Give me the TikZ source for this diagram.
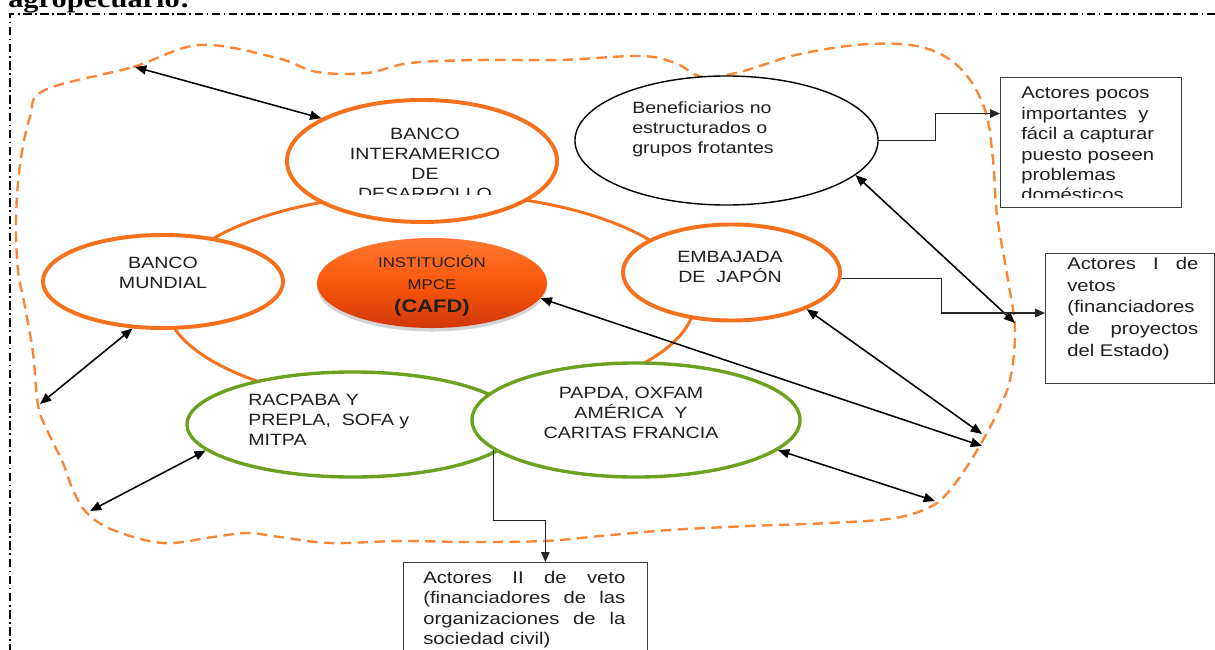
\documentclass[tikz,border=0pt]{standalone}
\usepackage{fontspec}
\setmainfont{Liberation Sans}[FakeStretch=1.2]
\newfontfamily\titlefont{Liberation Serif}[FakeStretch=1.2]
\usetikzlibrary{shapes.geometric, arrows.meta, shadows}
\definecolor{actororange}{RGB}{247,112,28}
\definecolor{arenaorange}{RGB}{250,135,55}
\definecolor{civilgreen}{RGB}{108,160,30}
\definecolor{cafdtop}{RGB}{255,120,50}
\definecolor{cafdmid}{RGB}{250,88,10}
\definecolor{cafdbot}{RGB}{208,55,10}
\definecolor{noteline}{RGB}{60,60,60}
\newcommand{\ellfont}{\fontsize{11.6}{14.2}\selectfont}
\newcommand{\notefont}{\fontsize{12}{14.5}\selectfont\hyphenpenalty=10000\tolerance=10000}
\newcommand{\vetofont}{\fontsize{12}{15.4}\selectfont\hyphenpenalty=10000\tolerance=10000}

\begin{document}
\begin{tikzpicture}[
    x=0.025cm, y=-0.025cm,
    actor/.style={draw=actororange, ellipse, fill=white, line width=2.8pt, inner sep=0pt},
    civil/.style={actor, draw=civilgreen, line width=2.4pt},
    cafd/.style={ellipse, inner sep=0pt, top color=cafdtop, bottom color=cafdbot, middle color=cafdmid,
                 drop shadow={shadow xshift=0pt, shadow yshift=-2.5pt, opacity=0.35}},
    elltext/.style={inner sep=0pt, align=center, font=\ellfont, text=black!88},
    notebox/.style={draw=noteline, rectangle, fill=white, line width=0.9pt, anchor=north west, inner sep=0pt},
    notetext/.style={inner sep=0pt, anchor=north west, font=\notefont, text=black!88},
    link/.style={<->, >={Triangle[length=8pt,width=6.5pt]}, line width=1.1pt},
    feed/.style={->, >={Triangle[length=7pt,width=6pt]}, line width=0.8pt, draw=black!85},
    pageframe/.style={line width=0.8pt, dash pattern=on 6pt off 2.5pt on 1.2pt off 2.5pt},
    arena/.style={draw=arenaorange, line width=1.7pt, dash pattern=on 7.5pt off 4.5pt}
]
    \useasboundingbox (0,0) rectangle (1215,650);
    % title and frame
    \node[anchor=base west, inner sep=0pt, font=\titlefont\bfseries\fontsize{18}{20}\selectfont] (title) at (8,8) {agropecuario:};
    \draw[pageframe] (10,670) -- (10,14) -- (1230,14);

    % ring joining the actors
    \draw[actororange, line width=2.1pt] (430,300) ellipse [x radius=265, y radius=107];

    % dashed arena
    \draw[arena] plot[smooth cycle, tension=0.6] coordinates {
        (45,90) (133,67) (200,45) (277,58) (317,72) (367,73) (410,63)
        (480,60) (560,60) (640,56) (675,63) (703,77) (740,72) (800,54)
        (870,44) (925,48) (962,70) (985,110) (993,160) (997,215) (1008,280)
        (1015,330) (1010,380) (997,413) (983,440) (968,465) (950,490) (932,506)
        (895,518) (830,523) (750,526) (670,530) (600,536) (545,541) (470,542)
        (400,541) (330,543) (280,537) (247,533) (213,537) (163,543) (113,530)
        (87,513) (73,490) (63,463) (47,430) (38,405) (33,353) (25,307)
        (18,270) (16,220) (20,165) (30,117)};
    \coordinate (arena-bid) at (135,67);
    \coordinate (arena-bm) at (40,404);
    \coordinate (arena-rac) at (90,511);
    \coordinate (arena-pap) at (935,501);
    \coordinate (arena-emb) at (982,434);
    \coordinate (arena-inst) at (982,446);
    \coordinate (arena-ben) at (1015,323);

    % actors
    \node[actor, minimum width=6.75cm, minimum height=3.05cm] (bid) at (422,161) {};
    \node[actor, minimum width=6cm, minimum height=2.325cm] (bm) at (163,281.5) {};
    \node[actor, minimum width=5.425cm, minimum height=2.4cm] (emb) at (731.5,272.5) {};
    \node[cafd, minimum width=5.75cm, minimum height=2.25cm] (inst) at (432,283) {};
    \node[draw, ellipse, fill=white, line width=1pt, inner sep=0pt,
          minimum width=7.575cm, minimum height=3.225cm] (ben) at (726.5,140.5) {};
    \node[civil, minimum width=8.3cm, minimum height=2.625cm] (rac) at (353,424.5) {};
    \node[civil, minimum width=8.2cm, minimum height=2.85cm] (pap) at (636,420) {};

    % texts
    \begin{scope}
        \clip (280,100) rectangle (570,194);
        \node[elltext, anchor=north] (bid-txt) at (425,128) {BANCO\\INTERAMERICO\\DE\\DESARROLLO};
    \end{scope}
    \node[elltext] (bm-txt) at (163,273) {BANCO\\MUNDIAL};
    \node[elltext] (emb-txt) at (730,267) {EMBAJADA\\DE~ JAPÓN};
    \node[elltext, font=\fontsize{10}{15.6}\selectfont] (inst-txt) at (432,286)
        {INSTITUCIÓN\\MPCE\\[1pt]{\fontsize{13}{15}\selectfont\bfseries (CAFD)}};
    \node[elltext, align=left, anchor=north west] (ben-txt) at (632,101) {Beneficiarios no\\estructurados o\\grupos frotantes};
    \node[elltext, align=left, anchor=north west] (rac-txt) at (248,394) {RACPABA Y\\PREPLA,~ SOFA y\\MITPA};
    \node[elltext] (pap-txt) at (631,413) {PAPDA, OXFAM\\AMÉRICA~ Y\\CARITAS FRANCIA};

    % notes
    \node[notebox, minimum width=4.525cm, minimum height=3.25cm] (pocos) at (1000,77) {};
    \begin{scope}
        \clip (1000,77) rectangle (1181,197);
        \node[notetext, align=left] (pocos-txt) at (1021,87)
            {Actores pocos\\importantes~ y\\fácil a capturar\\puesto poseen\\problemas\\domésticos};
    \end{scope}
    \node[notebox, minimum width=4.225cm, minimum height=3.25cm] (veto-uno) at (1045,253) {};
    \node[notetext, align=justify, text width=3.275cm, font=\vetofont] (veto-uno-txt) at (1067,257)
        {Actores I de\linebreak vetos\\(financiadores\\de proyectos\linebreak del Estado)};
    \node[notebox, minimum width=6.1cm, minimum height=2.75cm] (veto-dos) at (403,562) {};
    \node[notetext, align=justify, text width=5.05cm] (veto-dos-txt) at (423,571)
        {Actores II de veto\linebreak (financiadores de las\linebreak organizaciones de la\linebreak sociedad civil)};

    % arrows
    \draw[link] (arena-bid) -- (bid.157);
    \draw[link] (arena-bm) -- (bm.237);
    \draw[link] (arena-rac) -- (rac.190);
    \draw[link] (pap.348) -- (arena-pap);
    \draw[link] (emb.334) -- (arena-emb);
    \draw[link] (inst.352) -- (arena-inst);
    \draw[link] (ben.345) -- (arena-ben);
    \draw[feed] (ben.east) -- ++(57,0) |- ([yshift=-26pt]pocos.north west);
    \draw[feed] (emb.357) -- ++(100,0) |- ([yshift=4pt]veto-uno.west);
    \draw[feed] (pap.192) -- ++(0,70) -| ([xshift=14pt]veto-dos.north);
\end{tikzpicture}
\end{document}
